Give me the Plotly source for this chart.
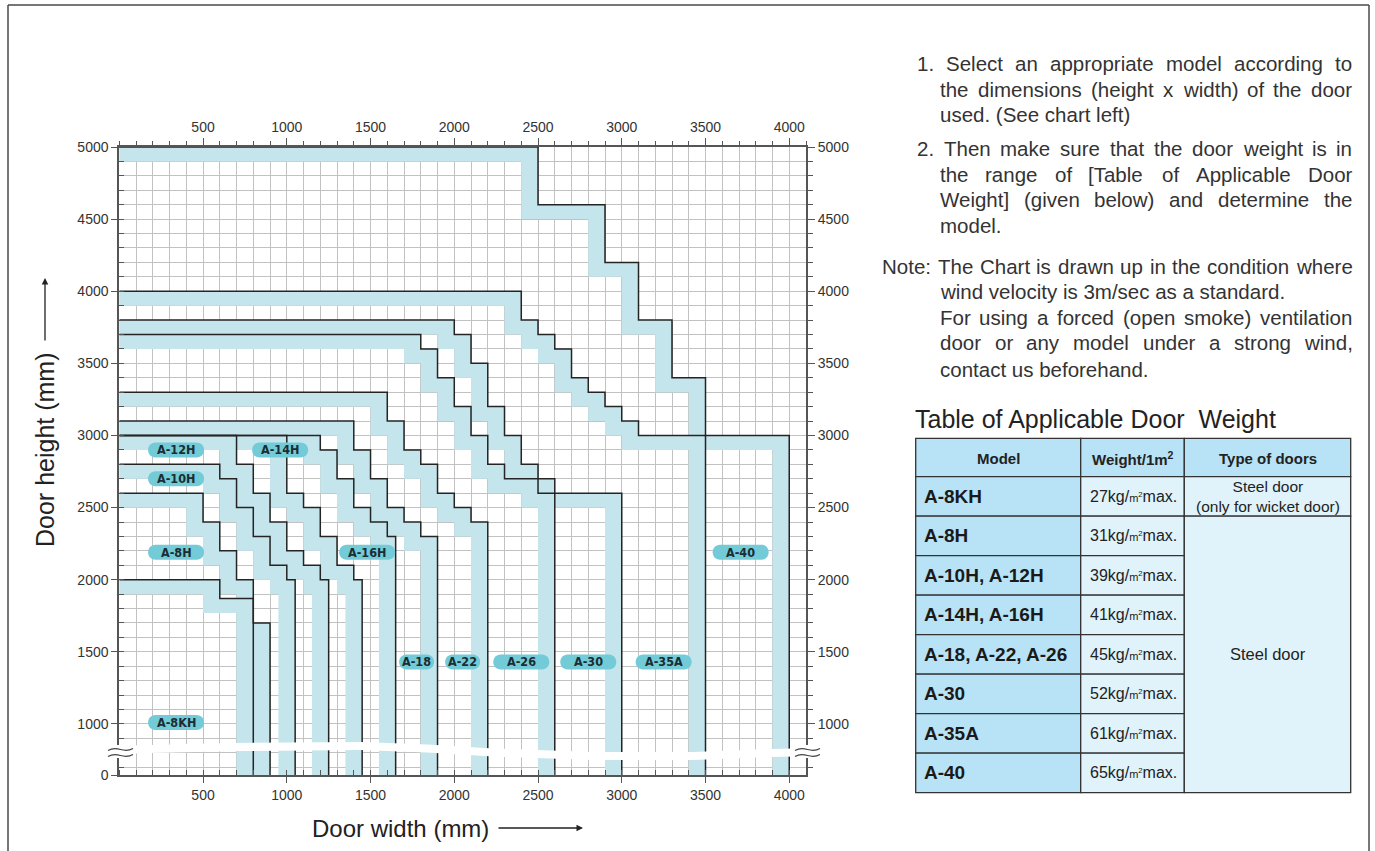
import plotly.graph_objects as go

# ---------------- data (door width / height limits per model, mm) ----------------
MODEL_NAMES = ["A-8KH", "A-8H", "A-10H", "A-12H", "A-14H", "A-16H",
               "A-18", "A-22", "A-26", "A-30", "A-35A", "A-40"]

A8KH_W = [0, 600, 600, 800, 800, 900, 900]
A8KH_H = [2000, 2000, 1870, 1870, 1700, 1700, 0]

A8H_W = [0, 500, 500, 600, 600, 700, 700, 800, 800]
A8H_H = [2600, 2600, 2400, 2400, 2200, 2200, 2000, 2000, 0]

A10H_W = [0, 600, 600, 700, 700, 800, 800, 900, 900, 1000, 1000, 1050, 1050]
A10H_H = [2800, 2800, 2700, 2700, 2500, 2500, 2300, 2300, 2100, 2100, 2000, 2000, 0]

A12H_W = [0, 700, 700, 800, 800, 900, 900, 1000, 1000, 1100, 1100, 1200, 1200, 1250, 1250]
A12H_H = [3000, 3000, 2800, 2800, 2600, 2600, 2400, 2400, 2200, 2200, 2100, 2100, 2000, 2000, 0]

A14H_W = [0, 1000, 1000, 1100, 1100, 1200, 1200, 1300, 1300, 1400, 1400, 1450, 1450]
A14H_H = [3000, 3000, 2600, 2600, 2500, 2500, 2300, 2300, 2100, 2100, 2000, 2000, 0]

A16H_W = [0, 1200, 1200, 1300, 1300, 1400, 1400, 1500, 1500, 1600, 1600, 1650, 1650]
A16H_H = [3000, 3000, 2900, 2900, 2700, 2700, 2500, 2500, 2400, 2400, 2300, 2300, 0]

A18_W = [0, 1400, 1400, 1500, 1500, 1600, 1600, 1700, 1700, 1800, 1800, 1900, 1900]
A18_H = [3100, 3100, 2900, 2900, 2700, 2700, 2500, 2500, 2400, 2400, 2300, 2300, 0]

A22_W = [0, 1600, 1600, 1700, 1700, 1800, 1800, 1900, 1900, 2000, 2000, 2100, 2100, 2200, 2200]
A22_H = [3300, 3300, 3100, 3100, 2900, 2900, 2800, 2800, 2600, 2600, 2500, 2500, 2400, 2400, 0]

A26_W = [0, 1800, 1800, 1900, 1900, 2000, 2000, 2100, 2100, 2200, 2200, 2300, 2300, 2600, 2600]
A26_H = [3700, 3700, 3600, 3600, 3400, 3400, 3200, 3200, 3000, 3000, 2800, 2800, 2700, 2700, 0]

A30_W = [0, 2000, 2000, 2100, 2100, 2200, 2200, 2300, 2300, 2400, 2400, 2500, 2500, 3000, 3000]
A30_H = [3800, 3800, 3700, 3700, 3500, 3500, 3200, 3200, 3000, 3000, 2800, 2800, 2600, 2600, 0]

A35A_W = [0, 2400, 2400, 2500, 2500, 2600, 2600, 2700, 2700, 2800, 2800, 2900, 2900,
          3000, 3000, 3100, 3100, 3500, 3500]
A35A_H = [4000, 4000, 3800, 3800, 3700, 3700, 3600, 3600, 3400, 3400, 3300, 3300, 3200,
          3200, 3100, 3100, 3000, 3000, 0]

A40_W = [0, 2500, 2500, 2900, 2900, 3100, 3100, 3300, 3300, 3500, 3500, 4000, 4000]
A40_H = [5000, 5000, 4600, 4600, 4200, 4200, 3800, 3800, 3400, 3400, 3000, 3000, 0]

OUTLINE_W = [A8KH_W, A8H_W, A10H_W, A12H_W, A14H_W, A16H_W, A18_W, A22_W, A26_W, A30_W, A35A_W, A40_W]
OUTLINE_H = [A8KH_H, A8H_H, A10H_H, A12H_H, A14H_H, A16H_H, A18_H, A22_H, A26_H, A30_H, A35A_H, A40_H]

# model label anchor (width mm, height mm)
LABEL_X = [339, 339, 339, 339, 960, 1480, 1775, 2050, 2400, 2800, 3250, 3710]
LABEL_Y = [1010, 2190, 2700, 2900, 2900, 2190, 1430, 1430, 1430, 1430, 1430, 2190]

X_TICKS = [500, 1000, 1500, 2000, 2500, 3000, 3500, 4000]
Y_TICKS = [1000, 1500, 2000, 2500, 3000, 3500, 4000, 4500, 5000]

TABLE_MODELS = ["A-8KH", "A-8H", "A-10H, A-12H", "A-14H, A-16H", "A-18, A-22, A-26",
                "A-30", "A-35A", "A-40"]
TABLE_WEIGHTS = [27, 31, 39, 41, 45, 52, 61, 65]
TABLE_TYPE_FIRST = "Steel door<br>(only for wicket door)"
TABLE_TYPE_REST = "Steel door"

NOTES = [
    "1. Select an appropriate model according to",
    "the dimensions (height x width) of the door",
    "used. (See chart left)",
    "2. Then make sure that the door weight is in",
    "the range of [Table of Applicable Door",
    "Weight] (given below) and determine the",
    "model.",
    "Note: The Chart is drawn up in the condition  where",
    "wind velocity is 3m/sec as a standard.",
    "For using a forced (open smoke)  ventilation",
    "door or any model under a strong wind,",
    "contact us beforehand.",
]
# layout of the note lines: start x (px), centre y (px), justified to right edge?
NOTE_X = [915, 938, 938, 915, 938, 938, 938, 880, 938, 938, 938, 938]
NOTE_Y = [64, 89, 115, 149, 175, 200, 226, 266, 292, 317, 343, 369]
NOTE_JUST = [True, True, False, True, True, True, False, True, False, True, True, False]
NOTE_RIGHT = 1350

# ---------------- layout constants ----------------
W, H = 1375, 851
PL, PR, PT, PB = 119.3, 806.0, 147.0, 775.0
X_MAX = 4100
Y_ZERO = 646          # axis position of "0" (below the axis break)
Y_MAX = 5000
BAND = 100            # width of the light band along each limit line
FONT = "Liberation Sans, Arial, Helvetica, sans-serif"
PILL_FONT = "Liberation Sans Narrow, DejaVu Sans Condensed, Liberation Sans, Arial"
BAND_COLOR = "#c4e5ec"
LINE_COLOR = "#242424"
PILL_COLOR = "#72cbd7"
GRID = "#c2c2c2"
AXIS = "#555555"
NOTE_SIZE = 20.5

PX_PER_X = (PR - PL) / X_MAX
PX_PER_Y = (PB - PT) / (Y_MAX - Y_ZERO)

# Arial / Liberation Sans advance widths (1/1000 em)
_AW = {' ': 278, '.': 278, ',': 278, '(': 333, ')': 333, '[': 278, ']': 278, '/': 278,
       ':': 278, '-': 333, '0': 556, '1': 556, '2': 556, '3': 556, '4': 556, '5': 556,
       '6': 556, '7': 556, '8': 556, '9': 556,
       'A': 667, 'B': 667, 'C': 722, 'D': 722, 'E': 667, 'F': 611, 'G': 778, 'H': 722,
       'I': 278, 'J': 500, 'K': 667, 'L': 556, 'M': 833, 'N': 722, 'O': 778, 'P': 667,
       'Q': 778, 'R': 722, 'S': 667, 'T': 611, 'U': 722, 'V': 667, 'W': 944, 'X': 667,
       'Y': 667, 'Z': 611,
       'a': 556, 'b': 556, 'c': 500, 'd': 556, 'e': 556, 'f': 278, 'g': 556, 'h': 556,
       'i': 222, 'j': 222, 'k': 500, 'l': 222, 'm': 833, 'n': 556, 'o': 556, 'p': 556,
       'q': 556, 'r': 333, 's': 500, 't': 278, 'u': 556, 'v': 500, 'w': 722, 'x': 500,
       'y': 500, 'z': 500}


def text_w(s, size):
    return sum(_AW.get(c, 556) for c in s) * size / 1000.0


def fx(px):
    return px / W


def fy(py):
    return 1 - py / H


fig = go.Figure()

# bands first
for ws, hs in zip(OUTLINE_W, OUTLINE_H):
    xs = list(ws) + [w - BAND for w in reversed(ws)]
    ys = list(hs) + [h - BAND for h in reversed(hs)]
    fig.add_trace(go.Scatter(x=xs, y=ys, fill="toself", fillcolor=BAND_COLOR,
                             mode="lines", line=dict(width=0), hoverinfo="skip",
                             showlegend=False))
# limit lines
for name, ws, hs in zip(MODEL_NAMES, OUTLINE_W, OUTLINE_H):
    fig.add_trace(go.Scatter(x=ws, y=hs, mode="lines", name=name,
                             line=dict(color=LINE_COLOR, width=1.5),
                             hoverinfo="skip", showlegend=False))
# invisible trace for the top/right axes
fig.add_trace(go.Scatter(x=[0], y=[1000], xaxis="x2", yaxis="y2", mode="markers",
                         marker=dict(opacity=0), hoverinfo="skip", showlegend=False))

shapes = []
annotations = []


def ann(x, y, text, size, color="#222", xanchor="center", yanchor="middle",
        ref="paper", family=FONT, **kw):
    d = dict(x=x, y=y, xref=ref, yref=ref, text=text, showarrow=False,
             xanchor=xanchor, yanchor=yanchor,
             font=dict(family=family, size=size, color=color))
    d.update(kw)
    annotations.append(d)


# axis break strip (white wavy band)
brk_x = [-60, 700, 1440, 1840, 2230, 2830, 3430, 3890, 4160]
brk_y = [819, 840, 847, 830, 802, 778, 778, 798, 805]
half = 28
pts_top = [f"{x},{y + half}" for x, y in zip(brk_x, brk_y)]
pts_bot = [f"{x},{y - half}" for x, y in zip(reversed(brk_x), reversed(brk_y))]
path = "M" + " L".join(pts_top + pts_bot) + " Z"
shapes.append(dict(type="path", path=path, xref="x", yref="y", fillcolor="white",
                   line=dict(width=0), layer="above"))

# break marks on the axes
for cx in (120.5, 807.5):
    shapes.append(dict(type="rect", xref="paper", yref="paper",
                       x0=fx(cx - 10), x1=fx(cx + 10), y0=fy(758), y1=fy(745),
                       fillcolor="white", line=dict(width=0), layer="above"))
    for cy in (749.5, 755.5):
        x0, x1 = cx - 12.5, cx + 12.5
        p = (f"M{fx(x0)},{fy(cy + 1)} C{fx(cx - 2)},{fy(cy - 5)} "
             f"{fx(cx + 2)},{fy(cy + 5)} {fx(x1)},{fy(cy - 1)}")
        shapes.append(dict(type="path", path=p, xref="paper", yref="paper",
                           line=dict(color="#444", width=1.2), layer="above"))

# model pills
for name, lx, ly in zip(MODEL_NAMES, LABEL_X, LABEL_Y):
    wpx = 35 if name in ("A-18", "A-22") else 56
    hw = wpx / 2 / PX_PER_X
    hh = 7.5 / PX_PER_Y
    rx = 7.5 / PX_PER_X
    a, b = lx - hw + rx, lx + hw - rx
    k = 1.33 * rx
    p = (f"M{a},{ly + hh} L{b},{ly + hh} C{b + k},{ly + hh} {b + k},{ly - hh} {b},{ly - hh} "
         f"L{a},{ly - hh} C{a - k},{ly - hh} {a - k},{ly + hh} {a},{ly + hh} Z")
    shapes.append(dict(type="path", path=p, xref="x", yref="y", fillcolor=PILL_COLOR,
                       line=dict(width=0), layer="above"))
    ann(lx, ly, f"<b>{name}</b>", 12.5, color="#1b2d33", ref="x", family=PILL_FONT,
        yref="y")

# page frame
frame = "#4a4a4a"
shapes += [
    dict(type="line", xref="paper", yref="paper", x0=fx(8), x1=fx(8), y0=0, y1=fy(5),
         line=dict(color=frame, width=1.5)),
    dict(type="line", xref="paper", yref="paper", x0=fx(8), x1=fx(1369), y0=fy(5), y1=fy(5),
         line=dict(color=frame, width=1.5)),
    dict(type="line", xref="paper", yref="paper", x0=fx(1369), x1=fx(1369), y0=0, y1=fy(5),
         line=dict(color=frame, width=1.5)),
]

# axis titles
ann(fx(400), fy(828), "Door width (mm)", 24)
annotations.append(dict(x=fx(583), y=fy(828), xref="paper", yref="paper", text="",
                        showarrow=True, ax=-86, ay=0, arrowhead=2, arrowsize=1,
                        arrowwidth=1.3, arrowcolor="#222"))
ann(fx(45), fy(450), "Door height (mm)", 25, textangle=-90)
annotations.append(dict(x=fx(45), y=fy(278), xref="paper", yref="paper", text="",
                        showarrow=True, ax=0, ay=64, arrowhead=2, arrowsize=1,
                        arrowwidth=1.3, arrowcolor="#222"))

# notes text (justified lines are laid out word by word)
for txt, x0, yc, just in zip(NOTES, NOTE_X, NOTE_Y, NOTE_JUST):
    words = txt.split()
    if just and len(words) > 1:
        widths = [text_w(w_, NOTE_SIZE) for w_ in words]
        gap = (NOTE_RIGHT - x0 - sum(widths)) / (len(words) - 1)
        gap = max(gap, text_w(" ", NOTE_SIZE) * 0.8)
        xpos = x0
        for w_, ww in zip(words, widths):
            ann(fx(xpos), fy(yc), w_, NOTE_SIZE, color="#333", xanchor="left")
            xpos += ww + gap
    else:
        ann(fx(x0), fy(yc), txt, NOTE_SIZE, color="#333", xanchor="left")

# table
ann(fx(913), fy(419), "Table of Applicable Door  Weight", 25, xanchor="left")
COLS = [915.7, 1080.7, 1184.3, 1350.7]
T_TOP, HEAD_H, ROW_H = 438.3, 38.4, 39.5
HEAD_BG, DARK_BG, LIGHT_BG = "#b8e3f6", "#b8e3f6", "#e0f3fb"
border = dict(color="#333", width=1.3)


def cell(x0, x1, y0, y1, color):
    shapes.append(dict(type="rect", xref="paper", yref="paper", x0=fx(x0), x1=fx(x1),
                       y0=fy(y1), y1=fy(y0), fillcolor=color, line=border,
                       layer="above"))


heads = ["<b>Model</b>", "<b>Weight/1m<sup>2</sup></b>", "<b>Type of doors</b>"]
for i, htxt in enumerate(heads):
    cell(COLS[i], COLS[i + 1], T_TOP, T_TOP + HEAD_H, HEAD_BG)
    ann(fx((COLS[i] + COLS[i + 1]) / 2), fy(T_TOP + HEAD_H / 2 + 1), htxt, 15)
for r, (mname, wt) in enumerate(zip(TABLE_MODELS, TABLE_WEIGHTS)):
    y0 = T_TOP + HEAD_H + r * ROW_H
    y1 = y0 + ROW_H
    cell(COLS[0], COLS[1], y0, y1, DARK_BG)
    cell(COLS[1], COLS[2], y0, y1, LIGHT_BG)
    ann(fx(922), fy((y0 + y1) / 2), f"<b>{mname}</b>", 19, color="#1a1a1a",
        xanchor="left")
    ann(fx((COLS[1] + COLS[2]) / 2 + 1), fy((y0 + y1) / 2),
        f"{wt}kg/<span style='font-size:11px'>m<sup>2</sup></span>max.", 16)
first_y0 = T_TOP + HEAD_H
cell(COLS[2], COLS[3], first_y0, first_y0 + ROW_H, LIGHT_BG)
ann(fx((COLS[2] + COLS[3]) / 2), fy(first_y0 + ROW_H / 2), TABLE_TYPE_FIRST, 15.5)
rest_y0 = first_y0 + ROW_H
rest_y1 = first_y0 + ROW_H * len(TABLE_MODELS)
cell(COLS[2], COLS[3], rest_y0, rest_y1, LIGHT_BG)
ann(fx((COLS[2] + COLS[3]) / 2), fy((rest_y0 + rest_y1) / 2), TABLE_TYPE_REST, 16.5)

tickfont = dict(family=FONT, size=14, color="#333")
xdomain = [fx(PL), fx(PR)]
ydomain = [fy(PB), fy(PT)]

fig.update_layout(
    width=W, height=H, margin=dict(l=0, r=0, t=0, b=0, autoexpand=False),
    paper_bgcolor="white", plot_bgcolor="white", showlegend=False,
    shapes=shapes, annotations=annotations,
    xaxis=dict(domain=xdomain, range=[0, X_MAX], anchor="y", tickmode="array",
               tickvals=X_TICKS, ticks="outside", ticklen=6, tickwidth=1.3,
               tickcolor=AXIS, tickfont=tickfont, showline=True, linecolor=AXIS,
               linewidth=2, showgrid=True, gridcolor=GRID, gridwidth=1.2,
               zeroline=False, fixedrange=True,
               minor=dict(tickmode="linear", tick0=0, dtick=100, ticks="inside",
                          ticklen=5, tickwidth=1.2, tickcolor=AXIS, showgrid=True,
                          gridcolor=GRID, gridwidth=1.2)),
    xaxis2=dict(domain=xdomain, range=[0, X_MAX], anchor="y2", overlaying="x",
                side="top", tickmode="array", tickvals=X_TICKS, ticks="outside",
                ticklen=7, tickwidth=1.3, tickcolor=AXIS, tickfont=tickfont,
                showline=True, linecolor=AXIS, linewidth=2, showgrid=False,
                zeroline=False, fixedrange=True,
                minor=dict(tickmode="linear", tick0=0, dtick=100, ticks="outside",
                           ticklen=4, tickwidth=1.2, tickcolor=AXIS, showgrid=False)),
    yaxis=dict(domain=ydomain, range=[Y_ZERO, Y_MAX], anchor="x", tickmode="array",
               tickvals=[Y_ZERO] + Y_TICKS, ticktext=["0"] + [str(v) for v in Y_TICKS],
               ticks="outside", ticklen=6, tickwidth=1.3, tickcolor=AXIS,
               tickfont=tickfont, showline=True, linecolor=AXIS, linewidth=2,
               showgrid=True, gridcolor=GRID, gridwidth=1.2, zeroline=False,
               fixedrange=True,
               minor=dict(tickmode="linear", tick0=0, dtick=100, ticks="inside",
                          ticklen=5, tickwidth=1.2, tickcolor=AXIS, showgrid=True,
                          gridcolor=GRID, gridwidth=1.2)),
    yaxis2=dict(domain=ydomain, range=[Y_ZERO, Y_MAX], anchor="x2", overlaying="y",
                side="right", tickmode="array", tickvals=Y_TICKS,
                ticktext=[str(v) for v in Y_TICKS], ticks="outside", ticklen=7,
                tickwidth=1.3, tickcolor=AXIS, tickfont=tickfont, showline=True,
                linecolor=AXIS, linewidth=2, showgrid=False, zeroline=False,
                fixedrange=True,
                minor=dict(tickmode="linear", tick0=0, dtick=100, ticks="outside",
                           ticklen=5, tickwidth=1.2, tickcolor=AXIS, showgrid=False)),
)

fig.write_html("out.html", config={"responsive": False, "displayModeBar": False},
               post_script="document.body.style.margin='0';"
                           "document.body.style.padding='0';"
                           "document.body.style.overflow='hidden';")
